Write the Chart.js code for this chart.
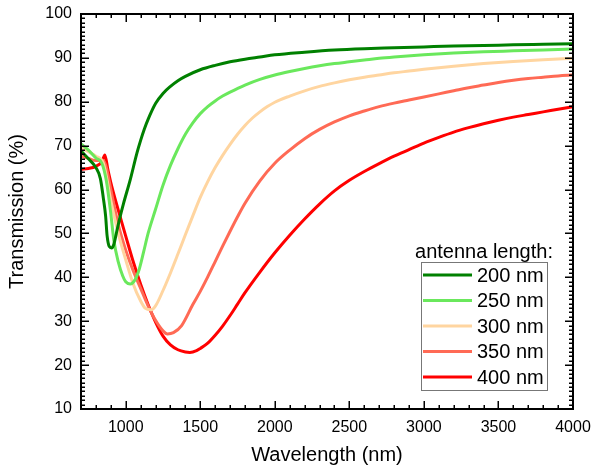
<!DOCTYPE html>
<html>
<head>
<meta charset="utf-8">
<script src="https://cdn.jsdelivr.net/npm/chart.js@4.4.1/dist/chart.umd.min.js"></script>
<style>
  html, body { margin: 0; padding: 0; background: #fff; }
  #wrap { width: 592px; height: 467px; }
</style>
</head>
<body>
<div id="wrap"><canvas id="transChart" width="592" height="467"></canvas></div>
<script>
// Transmission spectra for antennas of different length

const seriesLabels = ['200 nm', '250 nm', '300 nm', '350 nm', '400 nm'];
const seriesColors = ['#008000', '#6ae85c', '#ffd5a0', '#ff6a55', '#ff0000'];
const legendTitle = 'antenna length:';

const wl200 = [700, 750, 800, 830, 850, 865, 875, 890, 905, 920, 940, 960, 985, 1030, 1075, 1100, 1125, 1150, 1200, 1250, 1300, 1350, 1400, 1500, 1600, 1700, 1800, 1900, 2000, 2200, 2400, 2600, 2800, 3000, 3200, 3400, 3600, 3800, 4000];
const t200 = [68.8, 67.0, 65.0, 62.5, 58.0, 54.0, 49.5, 47.0, 46.7, 47.5, 50.5, 53.5, 56.8, 62.2, 68.3, 71.2, 73.8, 76.0, 79.6, 81.9, 83.5, 84.8, 85.8, 87.3, 88.3, 89.1, 89.7, 90.2, 90.7, 91.3, 91.8, 92.1, 92.3, 92.5, 92.7, 92.8, 93.0, 93.1, 93.2];

const wl250 = [700, 750, 800, 840, 870, 900, 920, 950, 980, 1000, 1030, 1060, 1090, 1120, 1150, 1200, 1250, 1300, 1350, 1400, 1450, 1500, 1550, 1600, 1650, 1700, 1800, 1900, 2000, 2100, 2200, 2300, 2400, 2500, 2600, 2700, 2800, 3000, 3200, 3400, 3600, 3800, 4000];
const t250 = [70.4, 69.0, 67.2, 66.0, 62.0, 54.5, 48.5, 43.5, 40.3, 39.0, 38.5, 39.3, 41.8, 45.8, 50.0, 55.5, 61.0, 65.5, 69.3, 72.6, 75.2, 77.3, 78.9, 80.2, 81.3, 82.2, 83.8, 85.1, 86.1, 86.9, 87.6, 88.2, 88.7, 89.1, 89.5, 89.9, 90.2, 90.7, 91.1, 91.4, 91.6, 91.8, 92.0];

const wl300 = [700, 750, 800, 850, 870, 900, 950, 1000, 1050, 1100, 1130, 1170, 1200, 1250, 1300, 1350, 1400, 1450, 1500, 1550, 1600, 1650, 1700, 1750, 1800, 1850, 1900, 1950, 2000, 2100, 2200, 2300, 2400, 2500, 2600, 2700, 2800, 2900, 3000, 3200, 3400, 3600, 3800, 4000];
const t300 = [69.5, 68.6, 67.6, 66.0, 63.0, 57.5, 50.0, 44.0, 38.5, 34.6, 33.0, 32.6, 33.5, 37.0, 41.0, 45.3, 49.7, 54.0, 58.2, 61.8, 65.0, 67.8, 70.3, 72.6, 74.6, 76.3, 77.7, 78.9, 79.9, 81.3, 82.5, 83.5, 84.3, 85.0, 85.6, 86.1, 86.6, 87.0, 87.4, 88.1, 88.7, 89.2, 89.6, 89.9];

const wl350 = [700, 750, 800, 850, 870, 900, 950, 1000, 1050, 1100, 1150, 1200, 1250, 1280, 1320, 1375, 1450, 1500, 1550, 1600, 1650, 1700, 1750, 1800, 1900, 2000, 2100, 2200, 2300, 2400, 2500, 2600, 2700, 2800, 2900, 3000, 3100, 3200, 3300, 3400, 3500, 3600, 3700, 3800, 3900, 4000];
const t350 = [67.6, 67.1, 66.6, 66.6, 65.0, 60.0, 52.0, 46.2, 41.5, 37.5, 33.5, 30.2, 27.8, 27.1, 27.4, 29.0, 33.8, 36.8, 40.1, 43.6, 47.1, 50.5, 53.8, 56.9, 62.0, 66.0, 69.0, 71.6, 73.7, 75.4, 76.8, 77.9, 78.9, 79.7, 80.4, 81.1, 81.8, 82.5, 83.2, 83.8, 84.4, 84.9, 85.3, 85.6, 85.9, 86.1];

const wl400 = [700, 750, 800, 840, 860, 880, 900, 950, 1000, 1050, 1100, 1150, 1200, 1250, 1300, 1350, 1400, 1430, 1475, 1500, 1550, 1600, 1650, 1700, 1750, 1800, 1900, 2000, 2100, 2200, 2300, 2400, 2500, 2600, 2700, 2800, 2900, 3000, 3100, 3200, 3300, 3400, 3500, 3600, 3700, 3800, 3900, 4000];
const t400 = [64.6, 64.8, 65.3, 66.3, 67.9, 64.6, 61.6, 55.3, 49.4, 43.6, 38.4, 33.8, 29.8, 26.6, 24.6, 23.5, 23.0, 22.9, 23.3, 23.8, 25.0, 26.8, 28.9, 31.3, 33.9, 36.5, 41.2, 45.6, 49.6, 53.3, 56.7, 59.7, 62.1, 64.1, 65.9, 67.6, 69.1, 70.6, 71.9, 73.1, 74.1, 75.0, 75.8, 76.5, 77.1, 77.7, 78.3, 78.9];

const xTickValues = [1000, 1500, 2000, 2500, 3000, 3500, 4000];
const yTickValues = [10, 20, 30, 40, 50, 60, 70, 80, 90, 100];

const allWl = [wl200, wl250, wl300, wl350, wl400];
const allT = [t200, t250, t300, t350, t400];

const FONT = '"Liberation Sans", Arial, sans-serif';

function toPoints(xs, ys) {
  return xs.map((x, i) => ({ x: x, y: ys[i] }));
}

// inward ticks on all four sides plus the closed frame
const frameTicks = {
  id: 'frameTicks',
  afterDatasetsDraw(chart) {
    const { ctx, chartArea: a, scales: { x, y } } = chart;
    ctx.save();
    ctx.strokeStyle = '#000';
    ctx.lineWidth = 1.5;
    ctx.beginPath();
    for (let v = 700; v <= 4000; v += 100) {
      const px = Math.round(x.getPixelForValue(v)) + 0.25;
      const len = v % 500 === 0 ? 8 : 4;
      ctx.moveTo(px, a.bottom); ctx.lineTo(px, a.bottom - len);
      ctx.moveTo(px, a.top); ctx.lineTo(px, a.top + len);
    }
    for (let v = 10; v <= 100; v += 1) {
      const py = Math.round(y.getPixelForValue(v)) + 0.25;
      const len = v % 10 === 0 ? 8 : 4;
      ctx.moveTo(a.left, py); ctx.lineTo(a.left + len, py);
      ctx.moveTo(a.right, py); ctx.lineTo(a.right - len, py);
    }
    ctx.stroke();
    ctx.lineWidth = 2;
    ctx.strokeRect(a.left, a.top, a.right - a.left, a.bottom - a.top);
    ctx.restore();
  }
};

// boxed legend with a title above it
const legendBox = {
  id: 'legendBox',
  afterDraw(chart) {
    const ctx = chart.ctx;
    ctx.save();
    ctx.font = '20px ' + FONT;
    ctx.fillStyle = '#000';
    ctx.textAlign = 'center';
    ctx.textBaseline = 'middle';
    ctx.fillText(legendTitle, 484, 252);
    ctx.fillStyle = '#fff';
    ctx.fillRect(421.5, 262.5, 126, 128);
    ctx.strokeStyle = '#777';
    ctx.lineWidth = 1;
    ctx.strokeRect(421.5, 262.5, 126, 128);
    chart.data.datasets.forEach((ds, i) => {
      const yy = 275 + i * 25.5;
      ctx.strokeStyle = ds.borderColor;
      ctx.lineWidth = 3;
      ctx.beginPath();
      ctx.moveTo(423, yy);
      ctx.lineTo(472, yy);
      ctx.stroke();
      ctx.fillStyle = '#000';
      ctx.textAlign = 'left';
      ctx.fillText(ds.label, 477, yy + 1);
    });
    ctx.restore();
  }
};

const datasets = seriesLabels.map((label, i) => ({
  label: label,
  data: toPoints(allWl[i], allT[i]),
  borderColor: seriesColors[i],
  backgroundColor: seriesColors[i],
  borderWidth: 3,
  pointRadius: 0,
  fill: false,
  cubicInterpolationMode: 'monotone'
}));

new Chart(document.getElementById('transChart'), {
  type: 'line',
  data: { datasets: datasets },
  options: {
    responsive: false,
    animation: false,
    layout: { padding: { left: 0, right: 19, top: 14, bottom: 0 } },
    plugins: {
      legend: { display: false },
      tooltip: { enabled: false }
    },
    scales: {
      x: {
        type: 'linear',
        min: 700,
        max: 4000,
        afterBuildTicks: (s) => { s.ticks = xTickValues.map(v => ({ value: v })); },
        afterFit: (s) => {
          s.height = 58;
          s.paddingLeft = 0;
          s.paddingRight = 0;
        },
        grid: { display: false, drawTicks: false },
        border: { display: false },
        ticks: {
          padding: 9,
          color: '#000',
          maxRotation: 0,
          autoSkip: false,
          font: { family: FONT, size: 16 },
          callback: (v) => String(v)
        },
        title: {
          display: true,
          text: 'Wavelength (nm)',
          color: '#000',
          padding: { top: 0, bottom: 0 },
          font: { family: FONT, size: 20 }
        }
      },
      y: {
        min: 10,
        max: 100,
        afterBuildTicks: (s) => { s.ticks = yTickValues.map(v => ({ value: v })); },
        afterFit: (s) => {
          s.width = 81;
          s.paddingTop = 0;
          s.paddingBottom = 0;
        },
        grid: { display: false, drawTicks: false },
        border: { display: false },
        ticks: {
          padding: 9,
          color: '#000',
          autoSkip: false,
          font: { family: FONT, size: 16 },
          callback: (v) => String(v)
        },
        title: {
          display: true,
          text: 'Transmission (%)',
          color: '#000',
          padding: { top: 5, bottom: 0 },
          font: { family: FONT, size: 20 }
        }
      }
    }
  },
  plugins: [frameTicks, legendBox]
});
</script>
</body>
</html>
